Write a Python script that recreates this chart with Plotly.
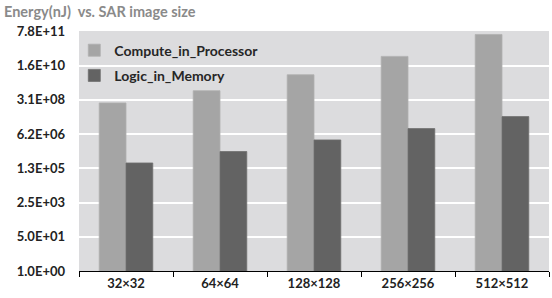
import plotly.graph_objects as go
import math

categories = ["32×32", "64×64", "128×128", "256×256", "512×512"]
compute_in_processor = [2.2e8, 8.9e8, 5.5e9, 4.5e10, 5.5e11]
logic_in_memory = [2.3e5, 8.5e5, 3.2e6, 1.17e7, 4.6e7]
tick_values = [1.0, 50.0, 2500.0, 125000.0, 6.25e6, 3.125e8, 1.5625e10, 7.8125e11]
tick_labels = ["1.0E+00", "5.0E+01", "2.5E+03", "1.3E+05", "6.2E+06", "3.1E+08", "1.6E+10", "7.8E+11"]

FONT = "Lato"

fig = go.Figure()
fig.add_trace(go.Bar(
    name="Compute_in_Processor", x=categories, y=compute_in_processor,
    legendgroup="a",
    marker=dict(color="#a5a5a5", line=dict(color="#b0b0b0", width=0.8)),
))
fig.add_trace(go.Bar(
    name="Logic_in_Memory", x=categories, y=logic_in_memory,
    legendgroup="b",
    marker=dict(color="#636363", line=dict(color="#6e6e6e", width=0.8)),
))

fig.update_layout(
    width=552, height=298,
    margin=dict(l=79, r=3, t=31, b=27),
    paper_bgcolor="white",
    plot_bgcolor="#dcdcde",
    barmode="group",
    bargap=0.43,
    bargroupgap=0.0,
    font=dict(family=FONT, size=13, color="#222222"),
    showlegend=True,
    legend=dict(
        x=-0.01, y=0.985, xanchor="left", yanchor="top",
        bgcolor="rgba(0,0,0,0)",
        font=dict(family=FONT, size=14, color="#262626", weight="bold"),
        itemwidth=30, tracegroupgap=4,
    ),
    annotations=[dict(
        text="<b>Energy(nJ)  vs. SAR image size</b>", xref="paper", yref="paper",
        x=-77/470, y=1.0, xanchor="left", yanchor="bottom", yshift=9,
        showarrow=False, font=dict(family=FONT, size=14.5, color="#8a8a8a"),
    )],
)

fig.update_xaxes(
    showline=True, linecolor="#000000", linewidth=1,
    ticks="outside", ticklen=5, tickcolor="#000000", tickson="boundaries",
    tickfont=dict(family=FONT, size=13, color="#222222", weight="bold"),
    showgrid=False,
)
fig.update_yaxes(
    type="log",
    range=[0, math.log10(7.8125e11) + 0.02],
    tickvals=tick_values, ticktext=tick_labels,
    showgrid=True, gridcolor="#ffffff", gridwidth=2,
    showline=False, zeroline=False, ticks="",
    ticklabelstandoff=13,
    tickfont=dict(family=FONT, size=13, color="#222222", weight="bold"),
)

fig.write_html("out.html", config={"displayModeBar": False},
               post_script="document.body.style.margin='0';")
